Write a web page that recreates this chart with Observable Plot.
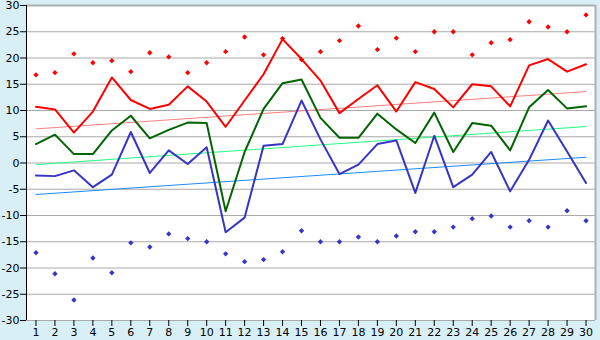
<!DOCTYPE html>
<html><head><meta charset="utf-8">
<script src="https://cdn.jsdelivr.net/npm/d3@7"></script>
<script src="https://cdn.jsdelivr.net/npm/@observablehq/plot@0.6"></script>
<style>
body{margin:0;background:#d9eff6;}
#chart svg{display:block;}
</style>
</head><body><div id="chart"></div>
<script>
const days = [1,2,3,4,5,6,7,8,9,10,11,12,13,14,15,16,17,18,19,20,21,22,23,24,25,26,27,28,29,30];
const yTicks = [-30,-25,-20,-15,-10,-5,0,5,10,15,20,25,30];

const redLine   = [10.7,10.2,5.8,9.8,16.3,12.0,10.3,11.1,14.6,11.7,6.9,11.9,16.9,23.6,19.8,15.7,9.5,12.2,14.8,9.8,15.4,14.1,10.6,15.0,14.6,10.8,18.6,19.8,17.4,18.8];
const greenLine = [3.6,5.4,1.7,1.7,6.2,9.0,4.7,6.3,7.7,7.6,-9.2,2.1,10.3,15.2,15.9,8.6,4.8,4.8,9.4,6.4,3.8,9.6,2.1,7.6,7.1,2.4,10.6,13.9,10.4,10.8];
const blueLine  = [-2.4,-2.5,-1.4,-4.6,-2.2,5.9,-1.9,2.4,-0.2,3.0,-13.2,-10.4,3.3,3.6,11.9,4.5,-2.1,-0.3,3.6,4.3,-5.7,5.2,-4.6,-2.2,2.1,-5.4,0.6,8.1,2.2,-3.8];
const maxPts    = [16.8,17.2,20.8,19.1,19.5,17.4,21.0,20.2,17.2,19.1,21.2,24.0,20.6,23.7,19.7,21.2,23.3,26.1,21.6,23.8,21.2,25.0,25.0,20.6,22.9,23.5,26.9,25.9,25.0,28.2];
const minPts    = [-17.1,-21.1,-26.1,-18.1,-20.9,-15.2,-16.0,-13.5,-14.4,-15.0,-17.3,-18.8,-18.4,-16.9,-12.9,-15.0,-15.0,-14.1,-15.0,-13.9,-13.1,-13.1,-12.2,-10.6,-10.1,-12.2,-11.0,-12.2,-9.1,-11.0];
const trendX     = [1,30];
const trendRed   = [6.5,13.6];
const trendGreen = [-0.3,6.95];
const trendBlue  = [-6.0,1.1];

const toRows = (vals, xs = days) => vals.map((v, i) => ({x: xs[i], y: v}));

const chart = Plot.plot({
  width: 600,
  height: 340,
  marginLeft: 26,
  marginRight: 5,
  marginTop: 5,
  marginBottom: 20,
  style: {background: "#d9eff6", fontFamily: "DejaVu Sans", fontSize: "11px", color: "#000", overflow: "visible"},
  x: {domain: [0.5, 30.5], label: null},
  y: {domain: [-30, 30], label: null},
  marks: [
    Plot.frame({fill: "white", stroke: null}),
    Plot.ruleY(yTicks, {stroke: "#aaaaaa", strokeWidth: 1}),
    Plot.ruleX([30.5], {stroke: "#b0b0b0", strokeWidth: 2}),
    Plot.ruleY([30], {stroke: "#b0b0b0", strokeWidth: 2}),
    Plot.line(toRows(trendRed, trendX), {x: "x", y: "y", stroke: "#ff8080", strokeWidth: 1}),
    Plot.line(toRows(trendGreen, trendX), {x: "x", y: "y", stroke: "#22ff80", strokeWidth: 1}),
    Plot.line(toRows(trendBlue, trendX), {x: "x", y: "y", stroke: "#1a8cff", strokeWidth: 1}),
    Plot.line(toRows(redLine), {x: "x", y: "y", stroke: "#ff0000", strokeWidth: 2}),
    Plot.line(toRows(greenLine), {x: "x", y: "y", stroke: "#006400", strokeWidth: 2}),
    Plot.line(toRows(blueLine), {x: "x", y: "y", stroke: "#3535c8", strokeWidth: 2}),
    Plot.dot(toRows(maxPts), {x: "x", y: "y", symbol: "diamond2", r: 2.4, fill: "#ff0000", stroke: null}),
    Plot.dot(toRows(minPts), {x: "x", y: "y", symbol: "diamond2", r: 2.4, fill: "#3535c8", stroke: null}),
    Plot.axisX({ticks: days, tickFormat: d => String(d), tickSize: 6, tickPadding: 2, stroke: "#000"}),
    Plot.axisY({ticks: yTicks, tickFormat: d => String(d), tickSize: 6, tickPadding: 1, stroke: "#000"}),
    Plot.ruleX([0.5], {stroke: "#000", strokeWidth: 1})
  ]
});
document.getElementById("chart").appendChild(chart);
</script>
</body></html>
